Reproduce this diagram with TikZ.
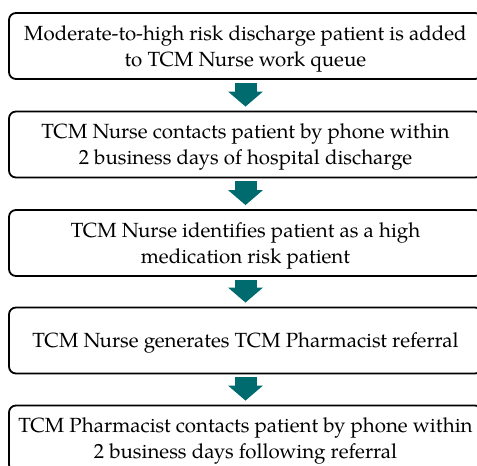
\documentclass[tikz,border=0pt]{standalone}
\usepackage{fontspec}
\setmainfont{TeX Gyre Pagella}
\usetikzlibrary{arrows.meta}
\definecolor{tealarrow}{HTML}{006B6F}
\begin{document}
\begin{tikzpicture}[x=1pt,y=-1pt,
  stepbox/.style={draw=black, line width=1.8pt, rounded corners=7pt,
    minimum width=473pt, minimum height=66pt, align=center, inner sep=0pt,
    text depth=0pt, font=\fontsize{20.5}{26}\selectfont},
  flow/.style={draw=tealarrow, line width=22pt,
    -{Triangle[width=34pt,length=15pt]}}]
\useasboundingbox (0,0) rectangle (477,466);
\clip (0,0) rectangle (477,466);
\node[stepbox] (s1) at (245.5,46) {Moderate-to-high risk discharge patient is added\\to TCM Nurse work queue};
\node[stepbox] (s2) at (245.5,144.5) {TCM Nurse contacts patient by phone within\\2 business days of hospital discharge};
\node[stepbox] (s3) at (245.5,243) {TCM Nurse identifies patient as a high\\medication risk patient};
\node[stepbox] (s4) at (245.5,340.5) {TCM Nurse generates TCM Pharmacist referral};
\node[stepbox] (s5) at (245.5,438.5) {TCM Pharmacist contacts patient by phone within\\2 business days following referral};
\foreach \a/\b in {s1/s2,s2/s3,s3/s4,s4/s5}
  \draw[flow] ([yshift=-3pt]\a.south) -- ([yshift=4pt]\b.north);
\end{tikzpicture}
\end{document}
